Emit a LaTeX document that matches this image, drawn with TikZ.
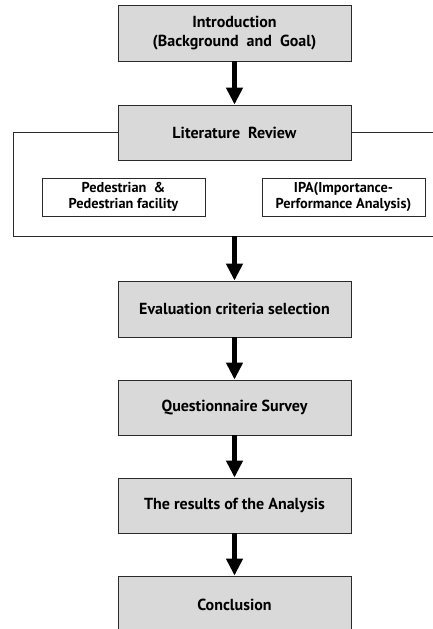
\documentclass[tikz,border=0pt]{standalone}
\usepackage{fontspec}
\setmainfont{PT Sans}
\usetikzlibrary{arrows.meta}
\definecolor{boxgray}{HTML}{D9D9D9}
\definecolor{edge}{HTML}{2A2A2A}
\tikzset{
  mainbox/.style={draw=edge, line width=0.8pt, fill=boxgray, minimum width=233pt, minimum height=55pt, inner sep=0pt, align=center, font=\fontsize{16}{18.5}\selectfont\bfseries},
  subbox/.style={draw=edge, line width=0.8pt, fill=white, minimum width=163pt, minimum height=38pt, inner sep=0pt, align=center, font=\fontsize{14.3}{15.5}\selectfont\bfseries},
  framebox/.style={draw=edge, line width=0.8pt, inner sep=0pt},
  flow/.style={line width=5.5pt, -{Triangle[width=16pt,length=17pt]}}
}
\begin{document}
\begin{tikzpicture}[x=1pt,y=-1pt]
\useasboundingbox (0,0) rectangle (433,629);
\clip (0,0) rectangle (433,629);
\node[framebox, minimum width=437pt, minimum height=104pt] (frame) at (231.5,184) {};
\node[mainbox, minimum height=56pt] (intro) at (234.5,33) {Introduction\\(Background\ \ and\ \ Goal)};
\node[mainbox] (lit) at (234.5,132.5) {Literature\ \ Review};
\node[subbox] (ped) at (123.5,197) {Pedestrian\ \ \&\\Pedestrian facility};
\node[subbox] (ipa) at (343.5,197) {IPA(Importance-\\Performance Analysis)};
\node[mainbox, minimum height=56pt] (eval) at (234.5,309) {Evaluation criteria selection};
\node[mainbox] (quest) at (234.5,407.5) {Questionnaire Survey};
\node[mainbox] (res) at (234.5,505.5) {The results of the Analysis};
\node[mainbox, minimum height=58pt] (conc) at (234.5,605) {Conclusion};
\coordinate (fb) at (lit.south |- frame.south);
\draw[flow] (intro.south) -- (lit.north);
\draw[flow] (fb) -- (eval.north);
\draw[flow] (eval.south) -- (quest.north);
\draw[flow] (quest.south) -- (res.north);
\draw[flow] (res.south) -- (conc.north);
\end{tikzpicture}
\end{document}
